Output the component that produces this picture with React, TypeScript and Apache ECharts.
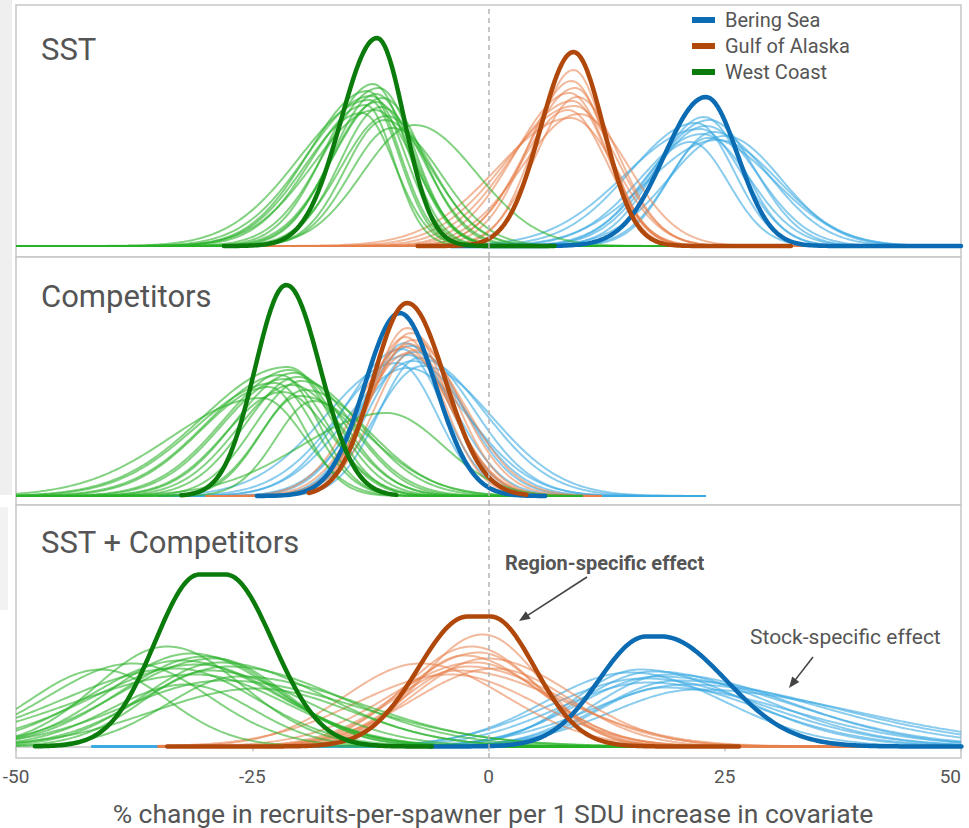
import React, { useEffect, useRef } from "react";
import * as echarts from "echarts";

// ---------- text ----------
const REGIONS = ["Bering Sea", "Gulf of Alaska", "West Coast"];
const PANEL_TITLES = ["SST", "Competitors", "SST + Competitors"];
const X_TICK_INTERVAL = 25;
const X_MIN = -50;
const X_MAX = 50;
const AXIS_TITLE = "% change in recruits-per-spawner per 1 SDU increase in covariate";
const NOTE_REGION = "Region-specific effect";
const NOTE_STOCK = "Stock-specific effect";

// ---------- curves ----------
// region curve: [mode, peak density, left sd, right sd, from, to, flat half-width]
// stock curves: [mode, peak density, left sd, right sd]; ranges: [from, to]

// Panel 1 : SST
const sstBeringRegion = [23.0, 0.149, 4.4, 3.4, -4, 50, 0];
const sstAlaskaRegion = [9.0, 0.194, 3.5, 3.2, -7.5, 32, 0];
const sstCoastRegion = [-11.8, 0.208, 3.8, 2.9, -28, 7, 0];
const sstBeringRange = [-20, 50];
const sstAlaskaRange = [-30, 37];
const sstCoastRange = [-50, 23];
const sstBeringStocks = [
  [22.8, 0.129, 5.0, 4.2], [23.4, 0.126, 6.0, 4.8], [22.0, 0.123, 7.0, 4.0],
  [23.0, 0.12, 5.6, 5.4], [22.4, 0.117, 8.0, 4.5], [23.8, 0.114, 4.6, 6.0],
  [22.6, 0.112, 6.5, 5.0], [21.4, 0.104, 5.2, 4.0], [24.2, 0.106, 7.4, 6.6],
  [23.2, 0.108, 4.2, 7.0], [25.0, 0.11, 6.0, 6.0],
];
const sstAlaskaStocks = [
  [9.0, 0.176, 4.0, 3.4], [8.8, 0.165, 4.6, 3.8], [9.2, 0.158, 5.2, 3.6],
  [8.6, 0.153, 5.8, 4.0], [9.4, 0.149, 4.4, 4.4], [8.9, 0.145, 6.5, 3.8],
  [9.1, 0.14, 7.2, 4.6], [8.4, 0.136, 5.0, 4.2], [9.6, 0.132, 6.0, 5.2],
  [8.7, 0.128, 7.8, 4.8],
];
const sstCoastStocks = [
  [-12.2, 0.162, 5.0, 3.6], [-11.6, 0.158, 5.6, 3.8], [-12.8, 0.155, 6.2, 3.4],
  [-11.9, 0.152, 4.6, 4.0], [-12.4, 0.15, 6.8, 3.6], [-11.2, 0.148, 5.2, 4.3],
  [-12.6, 0.146, 7.4, 3.2], [-11.8, 0.144, 4.8, 3.9], [-13.0, 0.141, 5.8, 3.0],
  [-11.4, 0.139, 4.3, 4.6], [-12.0, 0.136, 6.5, 4.2], [-10.8, 0.13, 4.8, 4.8],
  [-11.0, 0.126, 4.2, 5.0], [-10.2, 0.118, 4.5, 5.2], [-7.8, 0.121, 5.5, 6.5],
  [-13.4, 0.133, 6.0, 3.5],
];

// Panel 2 : Competitors
const compBeringRegion = [-9.4, 0.183, 3.7, 3.8, -24.5, 6, 0];
const compAlaskaRegion = [-8.6, 0.193, 3.6, 4.0, -19, 4, 0];
const compCoastRegion = [-21.4, 0.211, 3.3, 3.6, -32.5, -9.7, 0];
const compBeringRange = [-35, 23];
const compAlaskaRange = [-30, 12];
const compCoastRange = [-50, 10];
const compBeringStocks = [
  [-8.8, 0.153, 4.4, 4.6], [-8.2, 0.15, 5.2, 5.4], [-9.2, 0.147, 6.0, 4.4],
  [-7.8, 0.144, 4.8, 6.2], [-8.5, 0.141, 7.0, 5.0], [-7.4, 0.138, 4.2, 7.0],
  [-8.0, 0.135, 5.6, 5.8], [-9.6, 0.133, 7.6, 4.2], [-7.0, 0.13, 5.0, 7.4],
  [-8.6, 0.128, 6.4, 6.6],
];
const compAlaskaStocks = [
  [-8.6, 0.168, 3.8, 4.2], [-8.2, 0.163, 4.2, 4.6], [-8.8, 0.159, 4.0, 4.0],
  [-8.0, 0.156, 4.6, 5.0], [-8.4, 0.152, 4.4, 4.4], [-8.9, 0.149, 5.0, 4.8],
  [-7.8, 0.146, 4.2, 5.4], [-8.5, 0.143, 4.8, 4.6],
];
const compCoastStocks = [
  [-21.3, 0.129, 9.0, 5.0], [-21.0, 0.126, 7.0, 4.4], [-20.6, 0.123, 6.2, 5.2],
  [-22.0, 0.121, 7.8, 4.0], [-20.2, 0.119, 5.5, 5.8], [-21.6, 0.117, 6.6, 4.6],
  [-19.8, 0.115, 5.0, 6.4], [-22.6, 0.113, 8.4, 4.2], [-20.8, 0.111, 5.8, 5.4],
  [-23.2, 0.109, 7.2, 3.8], [-19.4, 0.106, 4.6, 6.8], [-21.8, 0.104, 6.0, 5.0],
  [-20.0, 0.1, 4.2, 7.2], [-10.8, 0.083, 9.0, 6.0], [-24.0, 0.098, 9.5, 4.5],
  [-18.5, 0.095, 4.0, 5.0],
];

// Panel 3 : SST + Competitors
const bothBeringRegion = [17.5, 0.11, 5.0, 6.8, -6.2, 50, 0.8];
const bothAlaskaRegion = [-1.0, 0.13, 5.2, 4.7, -34, 26.5, 1.2];
const bothCoastRegion = [-29.2, 0.172, 4.7, 5.0, -48, -6, 1.4];
const bothBeringRange = [-42, 50];
const bothAlaskaRange = [-35, 45];
const bothCoastRange = [-50, 18];
const bothBeringStocks = [
  [16.0, 0.077, 7.0, 11.0], [17.5, 0.075, 8.0, 12.0], [15.0, 0.074, 9.0, 10.0],
  [19.0, 0.072, 7.5, 13.0], [18.0, 0.07, 8.5, 14.0], [16.5, 0.068, 10.0, 12.5],
  [20.0, 0.066, 8.0, 15.0], [17.0, 0.064, 9.5, 11.5], [21.0, 0.062, 10.0, 16.0],
  [18.5, 0.059, 7.0, 13.5], [22.0, 0.057, 9.0, 17.0],
];
const bothAlaskaStocks = [
  [-0.6, 0.112, 6.5, 6.0], [-1.8, 0.1, 7.0, 7.0], [-1.0, 0.094, 8.0, 6.5],
  [-2.6, 0.091, 6.0, 8.0], [-0.2, 0.088, 7.5, 9.0], [-1.4, 0.084, 9.0, 7.5],
  [-7.2, 0.083, 8.0, 9.0], [-2.2, 0.08, 6.8, 10.0], [0.6, 0.078, 8.5, 8.0],
  [-3.2, 0.076, 7.0, 11.0], [-4.0, 0.072, 10.0, 9.0],
];
const bothCoastStocks = [
  [-34.0, 0.1, 7.5, 8.0], [-31.5, 0.093, 8.5, 9.0], [-30.0, 0.09, 9.0, 8.0],
  [-29.0, 0.088, 10.0, 7.5], [-32.5, 0.086, 9.5, 10.0], [-28.5, 0.084, 8.0, 11.0],
  [-30.8, 0.082, 11.0, 9.0], [-27.5, 0.08, 9.0, 12.0], [-33.0, 0.078, 12.0, 8.5],
  [-29.5, 0.076, 7.0, 10.0], [-41.0, 0.077, 7.5, 7.0], [-31.0, 0.072, 13.0, 9.5],
  [-26.5, 0.07, 7.5, 13.0], [-37.6, 0.083, 9.0, 8.0], [-28.0, 0.066, 10.5, 14.0],
  [-32.0, 0.062, 8.0, 7.0], [-24.5, 0.058, 11.0, 10.0],
];

// ---------- style ----------
const THICK_COLORS = ["#0b6cb3", "#b0480c", "#0b7b0b"];
const THIN_COLORS = ["rgba(60,170,226,0.6)", "rgba(232,128,75,0.55)", "rgba(40,178,40,0.58)"];
const FONT = "Roboto";
const TEXT_COLOR = "#555555";
const BORDER = "#c6c6c6";

const PANELS = [
  {
    title: PANEL_TITLES[0], top: 5, height: 252, yMin: -0.011, yMax: 0.241, titleY: 49,
    region: [sstBeringRegion, sstAlaskaRegion, sstCoastRegion],
    stocks: [sstBeringStocks, sstAlaskaStocks, sstCoastStocks],
    ranges: [sstBeringRange, sstAlaskaRange, sstCoastRange],
  },
  {
    title: PANEL_TITLES[1], top: 257, height: 248, yMin: -0.009, yMax: 0.239, titleY: 296,
    region: [compBeringRegion, compAlaskaRegion, compCoastRegion],
    stocks: [compBeringStocks, compAlaskaStocks, compCoastStocks],
    ranges: [compBeringRange, compAlaskaRange, compCoastRange],
  },
  {
    title: PANEL_TITLES[2], top: 505, height: 253, yMin: -0.0115, yMax: 0.2415, titleY: 542,
    region: [bothBeringRegion, bothAlaskaRegion, bothCoastRegion],
    stocks: [bothBeringStocks, bothAlaskaStocks, bothCoastStocks],
    ranges: [bothBeringRange, bothAlaskaRange, bothCoastRange],
  },
];

function density(p: number[], lo: number, hi: number) {
  const [mu, h, sL, sR, flat = 0] = p;
  const pts: number[][] = [];
  const n = Math.round((hi - lo) / 0.25);
  for (let i = 0; i <= n; i++) {
    const x = lo + i * 0.25;
    const d = x - mu;
    const s = d < 0 ? sL : sR;
    const ad = Math.max(0, Math.abs(d) - flat);
    pts.push([x, h * Math.exp(-0.5 * (ad / s) * (ad / s))]);
  }
  return pts;
}

function arrow(x1: number, y1: number, x2: number, y2: number) {
  const dx = x2 - x1, dy = y2 - y1;
  const L = Math.hypot(dx, dy);
  const ux = dx / L, uy = dy / L;
  const hl = 11, hw = 4.5;
  const bx = x2 - ux * hl, by = y2 - uy * hl;
  const px = -uy, py = ux;
  return [
    { type: "line", shape: { x1, y1, x2: bx + ux * 2, y2: by + uy * 2 }, style: { stroke: "#444", lineWidth: 1.6 }, z: 20 },
    {
      type: "polygon",
      shape: { points: [[x2, y2], [bx + px * hw, by + py * hw], [bx - px * hw, by - py * hw]] },
      style: { fill: "#444" }, z: 20,
    },
  ];
}

export default function App() {
  const ref = useRef<HTMLDivElement>(null);
  useEffect(() => {
    if (!ref.current) return;
    const chart = echarts.init(ref.current, undefined, { renderer: "svg" });

    const grids: any[] = [];
    const xAxes: any[] = [];
    const yAxes: any[] = [];
    const series: any[] = [];

    PANELS.forEach((pn, gi) => {
      const last = gi === PANELS.length - 1;
      grids.push({
        left: 16, top: pn.top, width: 945, height: pn.height,
        containLabel: false, outerBoundsMode: "none",
        show: true, borderColor: BORDER, borderWidth: 1.5, backgroundColor: "#ffffff",
      });
      xAxes.push({
        gridIndex: gi, type: "value", min: X_MIN, max: X_MAX, interval: X_TICK_INTERVAL,
        splitLine: { show: false },
        axisLine: { show: last, lineStyle: { color: BORDER, width: 1.5 } },
        axisTick: { show: last, length: 5, lineStyle: { color: BORDER, width: 1.5 } },
        axisLabel: {
          show: last, fontSize: 19, color: TEXT_COLOR, fontFamily: FONT, margin: 9,
          showMinLabel: true, showMaxLabel: true, hideOverlap: false,
          alignMaxLabel: "right",
        },
        ...(last
          ? {
              name: AXIS_TITLE, nameLocation: "middle", nameGap: 42,
              nameTextStyle: { fontSize: 26.5, color: TEXT_COLOR, fontFamily: FONT, padding: [0, 0, 0, 9] },
            }
          : {}),
      });
      yAxes.push({
        gridIndex: gi, type: "value", min: pn.yMin, max: pn.yMax, show: false,
        splitLine: { show: false },
      });

      // stock-specific curves
      [0, 1, 2].forEach((ri) => {
        const [lo, hi] = pn.ranges[ri];
        pn.stocks[ri].forEach((p: number[], k: number) => {
          const s: any = {
            type: "line", name: REGIONS[ri] + " stock " + (k + 1),
            xAxisIndex: gi, yAxisIndex: gi, data: density(p, lo, hi),
            showSymbol: false, symbol: "none", silent: true, z: 2,
            lineStyle: { color: THIN_COLORS[ri], width: 2 },
            itemStyle: { color: THIN_COLORS[ri] },
            emphasis: { disabled: true },
          };
          if (ri === 0 && k === 0) {
            s.markLine = {
              silent: true, symbol: "none", label: { show: false },
              lineStyle: { color: "#b4b4b4", type: [5, 4], width: 1.5 },
              emphasis: { disabled: true },
              data: [{ xAxis: 0 }],
            };
          }
          series.push(s);
        });
      });
      // region-specific curves
      [0, 1, 2].forEach((ri) => {
        const r = pn.region[ri];
        series.push({
          type: "line", name: REGIONS[ri],
          xAxisIndex: gi, yAxisIndex: gi,
          data: density([r[0], r[1], r[2], r[3], r[6]], r[4], r[5]),
          showSymbol: false, symbol: "none", silent: true, z: 3,
          lineStyle: { color: THICK_COLORS[ri], width: 4.5, cap: "round", join: "round" },
          itemStyle: { color: THICK_COLORS[ri] },
          emphasis: { disabled: true },
        });
      });
    });

    const graphic: any[] = [
      { type: "rect", shape: { x: 0, y: 0, width: 12, height: 495 }, style: { fill: "#efefef" }, z: -1 },
      { type: "rect", shape: { x: 0, y: 507, width: 8, height: 103 }, style: { fill: "#f2f2f2" }, z: -1 },
      ...PANELS.map((pn) => ({
        type: "text", x: 41, y: pn.titleY, z: 20,
        style: {
          text: pn.title, fontSize: 31, fontFamily: FONT, fill: TEXT_COLOR,
          verticalAlign: "middle", align: "left",
        },
      })),
      {
        type: "text", x: 505, y: 563, z: 20,
        style: {
          text: NOTE_REGION, fontSize: 20, fontWeight: "bold", fontFamily: FONT, fill: TEXT_COLOR,
          verticalAlign: "middle", align: "left",
        },
      },
      ...arrow(587, 577, 519, 621),
      {
        type: "text", x: 750, y: 637, z: 20,
        style: {
          text: NOTE_STOCK, fontSize: 21, fontFamily: FONT, fill: TEXT_COLOR,
          verticalAlign: "middle", align: "left",
        },
      },
      ...arrow(813, 657, 789, 688),
    ];

    chart.setOption({
      animation: false,
      backgroundColor: "#ffffff",
      grid: grids,
      xAxis: xAxes,
      yAxis: yAxes,
      legend: {
        data: REGIONS, orient: "vertical", left: 692, top: 10, padding: 0,
        itemWidth: 23, itemHeight: 6, itemGap: 6, icon: "rect", selectedMode: false,
        textStyle: { fontSize: 20, color: TEXT_COLOR, fontFamily: FONT, lineHeight: 20, padding: [0, 0, 0, 5] },
      },
      series,
      graphic,
    });
    return () => chart.dispose();
  }, []);
  return <div ref={ref} style={{ position: "absolute", left: 0, top: 0, width: 969, height: 828 }} />;
}
